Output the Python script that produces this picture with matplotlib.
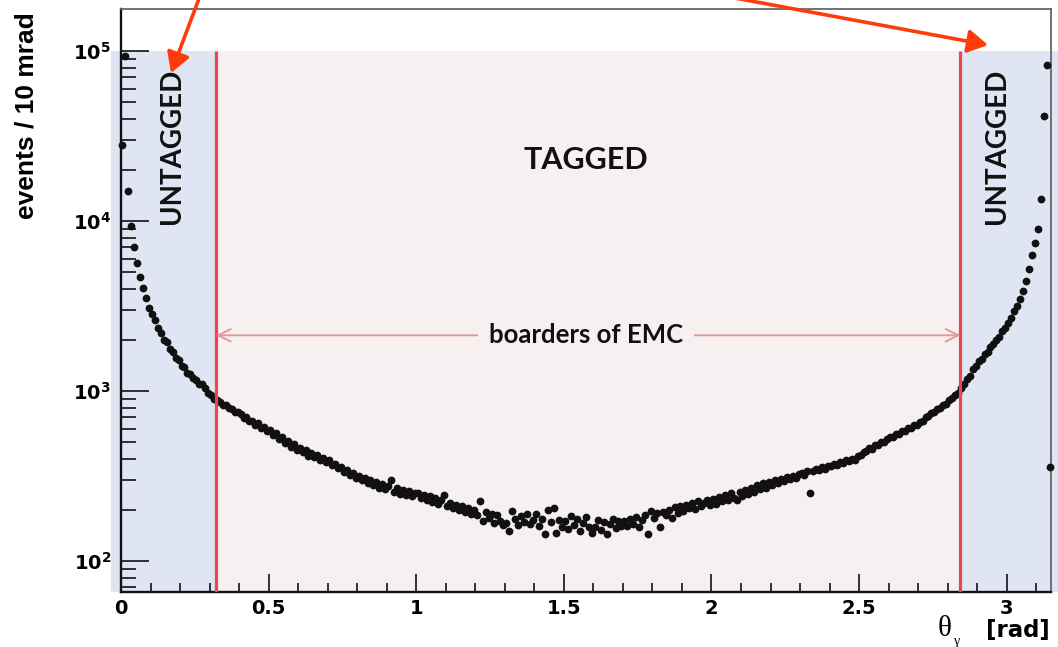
import numpy as np
import matplotlib
matplotlib.use("Agg")
import matplotlib.pyplot as plt
from matplotlib.patches import Rectangle, FancyArrowPatch
from matplotlib.ticker import MultipleLocator, LogLocator, NullFormatter

# ---- data: photon polar angle, events per 10 mrad bin ----
BIN_WIDTH = 0.01  # rad

# bins below the forward EMC edge (theta < 0.32 rad)
counts_forward = [
    28200, 93300, 15100, 9330, 7080, 5690, 4680, 4030, 3550, 3090,
    2850, 2610, 2340, 2210, 2010, 1950, 1770, 1700, 1560, 1520,
    1410, 1380, 1280, 1260, 1190, 1170, 1100, 1095, 1040, 970,
    955, 900,
]
# bins inside the EMC acceptance
counts_tagged = [
    885, 868, 832, 829, 792, 788, 749, 752,
    731, 698, 705, 668, 671, 628, 650, 607, 619, 583,
    590, 552, 566, 521, 538, 498, 512, 470, 489, 452,
    461, 437, 448, 418, 431, 409, 420, 396, 404, 381,
    392, 366, 375, 351, 360, 333, 344, 322, 331, 308,
    318, 298, 309, 289, 301, 280, 291, 270, 283, 264,
    275, 300, 254, 268, 249, 263, 246, 259, 241, 252,
    250, 236, 246, 229, 241, 223, 235, 218, 228, 244,
    212, 221, 204, 213, 199, 210, 194, 205, 190, 200,
    186, 226, 173, 195, 180, 190, 168, 186, 172, 163,
    168, 150, 197, 178, 162, 183, 170, 188, 166, 175,
    190, 160, 178, 144, 200, 169, 206, 147, 175, 158,
    172, 155, 184, 162, 176, 150, 168, 181, 158, 147,
    159, 175, 152, 170, 145, 166, 178, 156, 171, 160,
    172, 161, 178, 166, 182, 158, 175, 187, 145, 196,
    180, 192, 158, 195, 186, 201, 180, 207, 191, 210,
    198, 215, 206, 220, 203, 226, 212, 219, 229, 214,
    232, 218, 238, 226, 244, 230, 251, 236, 228, 255,
    240, 262, 248, 270, 256, 279, 265, 288, 271, 292,
    281, 298, 290, 305, 296, 312, 303, 318, 309, 326,
    332, 320, 341, 252, 338, 350, 342, 357, 348, 364,
    362, 375, 368, 384, 377, 392, 386, 401, 396, 414,
    421, 440, 443, 462, 458, 481, 479, 503, 500, 526,
    536, 538, 560, 559, 582, 585, 607, 609, 633, 636,
    660, 671, 701, 710, 742, 752, 788, 796, 831, 845,
    882, 905, 951, 975,
]
# bins beyond the backward EMC edge (theta > 2.84 rad)
counts_backward = [
    1040, 1095, 1172, 1228, 1341, 1398,
    1510, 1552, 1660, 1702, 1815, 1890, 2010, 2095, 2260, 2350,
    2530, 2700, 2980, 3170, 3490, 3880, 4470, 5250, 6310, 7410,
    9020, 13490, 41690, 83180, 359,
]

EMC_EDGES = (0.322, 2.843)  # rad
x_ticks = [0, 0.5, 1, 1.5, 2, 2.5, 3]
x_tick_labels = ["0", "0.5", "1", "1.5", "2", "2.5", "3"]
y_ticks = [1e2, 1e3, 1e4, 1e5]
y_tick_labels = [r"$\mathbf{10^{2}}$", r"$\mathbf{10^{3}}$",
                 r"$\mathbf{10^{4}}$", r"$\mathbf{10^{5}}$"]

counts = np.array(counts_forward + counts_tagged + counts_backward, dtype=float)
theta = (np.arange(counts.size) + 0.5) * BIN_WIDTH

# ---- figure ----
W, H = 1058, 647
fig = plt.figure(figsize=(W / 100, H / 100), dpi=100)


def fx(px):
    return px / W


def fy(py):
    return 1 - py / H


ax = fig.add_axes([fx(121), fy(592), 930 / W, 583 / H])
XMIN, XMAX = 0.0, 3.15
YMIN, YMAX = 65.8, 1.77e5
SHADE_TOP = 1e5

blue = "#dfe5f3"
pink = "#f6f0f0"
ax.add_patch(Rectangle((-0.034, YMIN), EMC_EDGES[0] + 0.034, SHADE_TOP - YMIN,
                       fc=blue, ec="none", clip_on=False, zorder=0))
ax.add_patch(Rectangle((EMC_EDGES[0], YMIN), EMC_EDGES[1] - EMC_EDGES[0],
                       SHADE_TOP - YMIN, fc=pink, ec="none", zorder=0))
ax.add_patch(Rectangle((EMC_EDGES[1], YMIN), 3.175 - EMC_EDGES[1], SHADE_TOP - YMIN,
                       fc=blue, ec="none", clip_on=False, zorder=0))

ax.plot(theta, counts, "o", ms=5.6, color="#111111", mec="none", zorder=3,
        clip_on=False)

ax.vlines(EMC_EDGES, YMIN, SHADE_TOP, colors="#e8474f", lw=2.3, zorder=4)

# EMC acceptance span
y_arrow = 2130
ax.annotate("", xy=(EMC_EDGES[0], y_arrow), xytext=(EMC_EDGES[1], y_arrow),
            arrowprops=dict(arrowstyle="<->,head_length=0.9,head_width=0.45",
                            color="#e39a9a", lw=1.4, shrinkA=0, shrinkB=0),
            zorder=4)
ax.text(1.575, y_arrow, "boarders of EMC", ha="center", va="center",
        fontsize=18.5, fontweight="bold", family="Lato", color="#111111",
        bbox=dict(fc=pink, ec="none", pad=8), zorder=5)

ax.set_xscale("linear")
ax.set_yscale("log")
ax.set_xlim(XMIN, XMAX)
ax.set_ylim(YMIN, YMAX)

ax.set_xticks(x_ticks)
ax.set_xticklabels(x_tick_labels, fontsize=14, fontweight="bold",
                   family="DejaVu Sans")
ax.xaxis.set_minor_locator(MultipleLocator(0.1))
ax.set_yticks(y_ticks)
ax.set_yticklabels(y_tick_labels, fontsize=14)
ax.yaxis.set_minor_locator(LogLocator(base=10, subs=np.arange(2, 10)))
ax.yaxis.set_minor_formatter(NullFormatter())

ax.tick_params(axis="both", which="both", direction="in", top=False,
               right=False, color="#222222", width=1.3)
ax.tick_params(axis="y", which="major", length=20, pad=7)
ax.tick_params(axis="y", which="minor", length=10.5)
ax.tick_params(axis="x", which="major", length=13, pad=5)
ax.tick_params(axis="x", which="minor", length=6.5)

for side in ("left", "bottom"):
    ax.spines[side].set_linewidth(1.7)
    ax.spines[side].set_color("#111111")
for side in ("top", "right"):
    ax.spines[side].set_linewidth(1.3)
    ax.spines[side].set_color("#666666")

# region labels
fig.text(fx(586), fy(160), "TAGGED", ha="center", va="center", fontsize=22,
         fontweight="bold", family="Lato", color="#111111")
for cx in (172, 997):
    fig.text(fx(cx), fy(146), "UNTAGGED", ha="center", va="center",
             rotation=90, fontsize=20, fontweight="bold", family="Lato",
             color="#111111")

# axis titles
fig.text(fx(27), fy(116), "events / 10 mrad", rotation=90, ha="center",
         va="center", fontsize=19, fontweight="bold", family="Liberation Sans")
fig.text(fx(945), fy(629), "\u03b8", family="Liberation Serif", fontsize=21,
         ha="center", va="center")
fig.text(fx(957), fy(641), "\u03b3", family="Liberation Serif", fontsize=10,
         ha="center", va="center")
fig.text(fx(1050), fy(631), "[rad]", ha="right", va="center", fontsize=16.5,
         fontweight="bold", family="DejaVu Sans")

# pointers to the untagged regions
for (x0, y0), (x1, y1) in (((200, -4), (171, 73)), ((735, -2), (988, 45))):
    fig.add_artist(FancyArrowPatch(
        posA=(fx(x0), fy(y0)), posB=(fx(x1), fy(y1)),
        transform=fig.transFigure, arrowstyle="-|>,head_length=0.55,head_width=0.32",
        mutation_scale=22, color="#ff3b0a", lw=2.6, shrinkA=0, shrinkB=0))

fig.savefig("out.png", dpi=100)
